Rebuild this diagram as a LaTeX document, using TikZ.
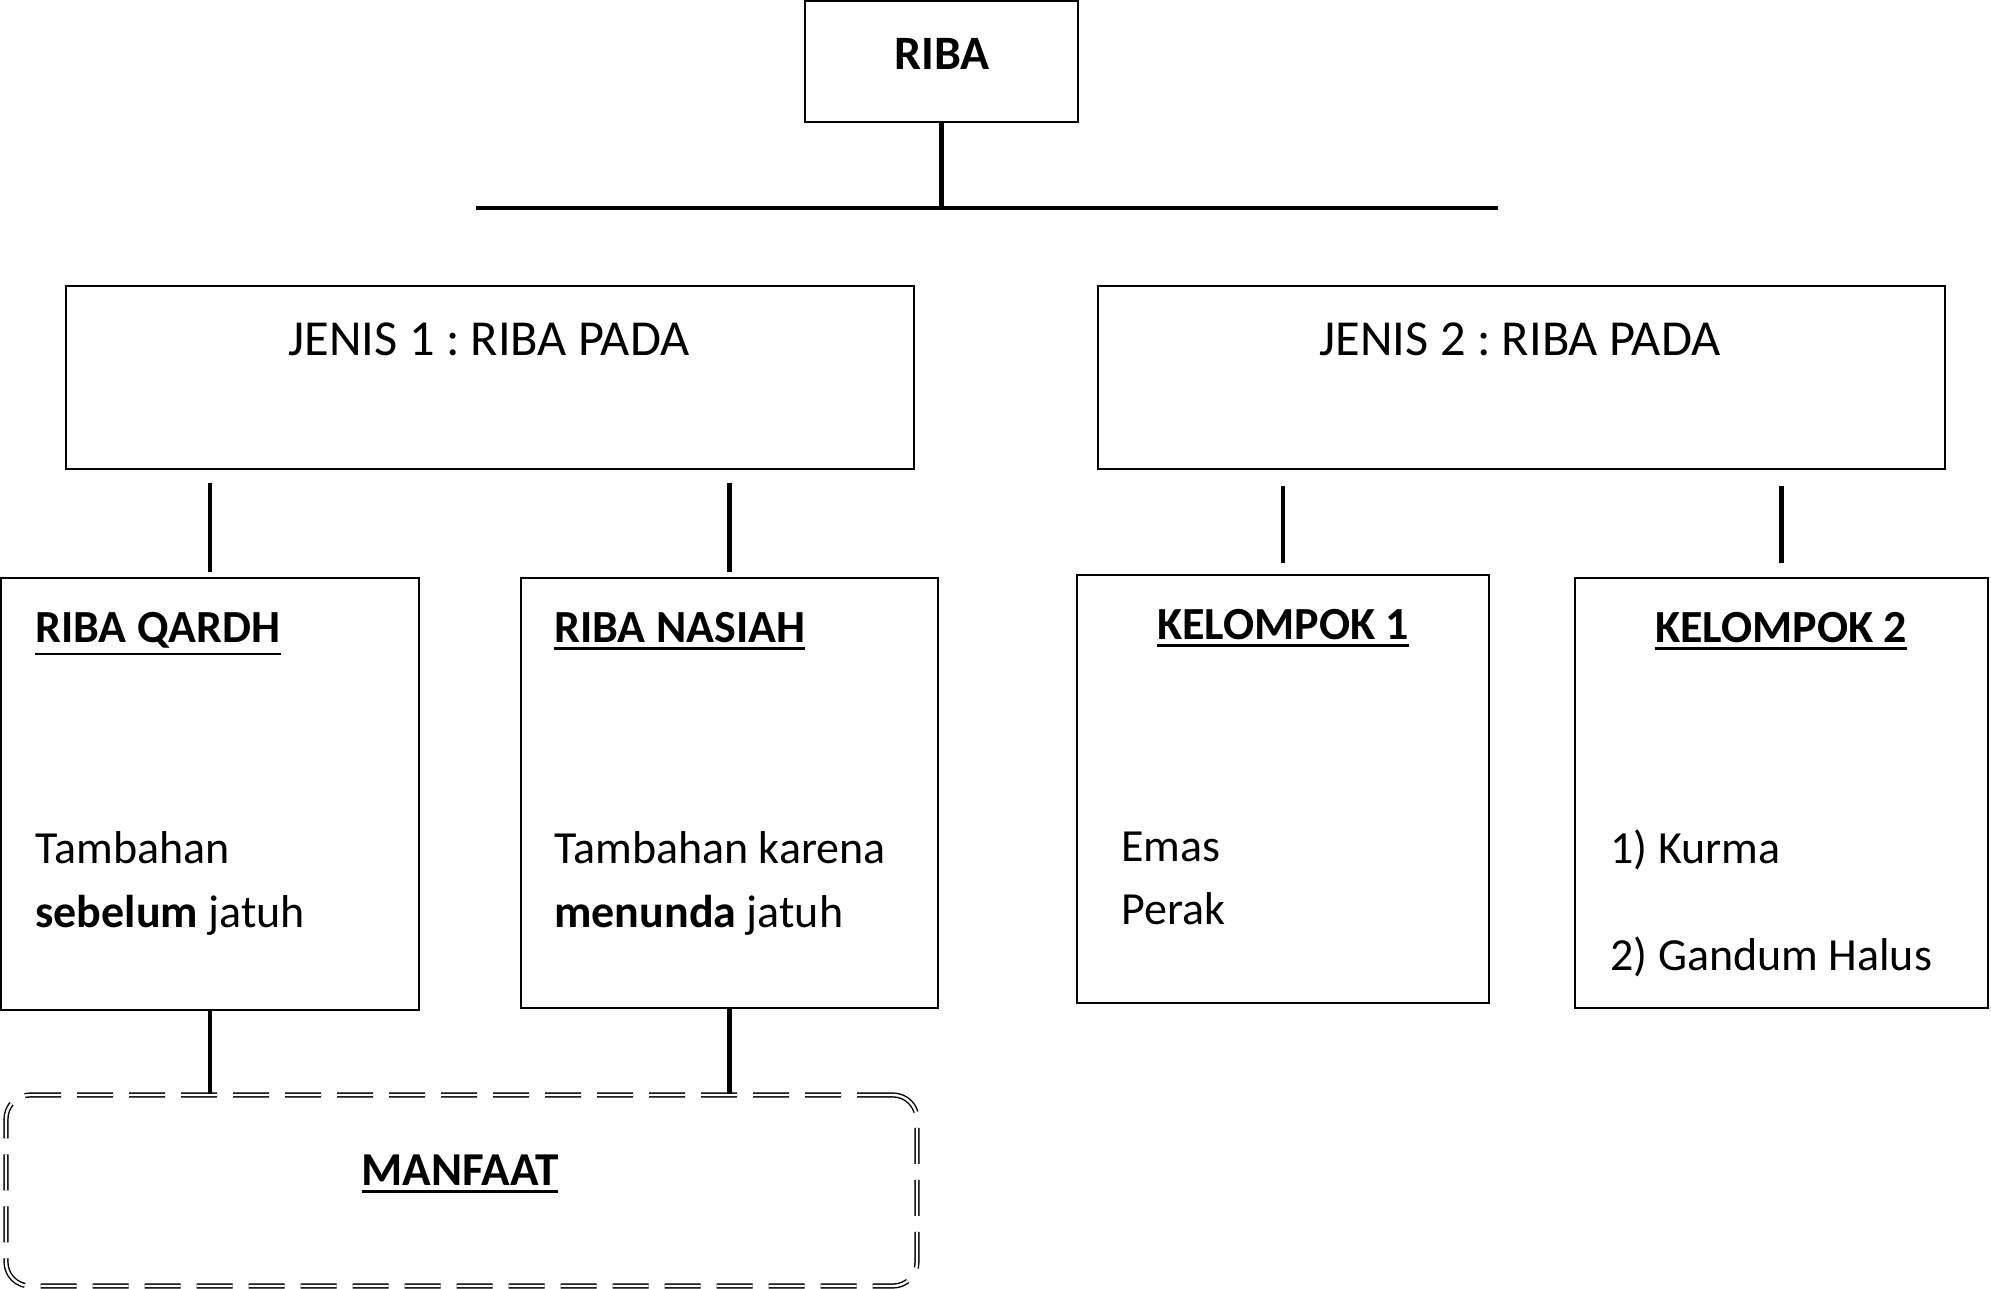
\documentclass[tikz,border=0pt]{standalone}
\usepackage{fontspec}
\setmainfont{Carlito}
\frenchspacing
\usetikzlibrary{positioning, calc}
\newcommand{\thickul}[1]{\vtop{\hbox{#1}\kern2.4pt\hrule height 1.35pt}}

\begin{document}
\begin{tikzpicture}[
    x=0.5pt, y=-0.5pt,
    font=\fontsize{23}{32}\selectfont,
    box/.style={rectangle, draw, line width=1.35pt, inner sep=0pt},
    dbox/.style={rectangle, draw, rounded corners=12pt, line width=0.7pt, double, double distance=1.2pt, dash pattern=on 18pt off 8pt, inner sep=0pt},
    txt/.style={anchor=base west, inner sep=0pt},
    head/.style={anchor=base, inner sep=0pt},
    big/.style={font=\fontsize{25.2}{32}\selectfont},
    conn/.style={line width=2.2pt},
    bar/.style={line width=2.2pt}
]
\useasboundingbox (0,0) rectangle (1991,1289);

% Top: RIBA and the bar below it
\node[box, minimum width=136.5pt, minimum height=60.5pt] (riba) at (941.5,61.5) {};
\node[head, font=\fontsize{24}{32}\selectfont] (ribaT) at (942,69.5) {\textbf{RIBA}};
\coordinate (barL) at (476,208);
\coordinate (barR) at (1498,208);
\draw[bar] (riba.south) -- (riba.south |- barL);
\draw[bar] (barL) -- (barR);

% Second row: the two kinds
\node[box, minimum width=424pt, minimum height=91.5pt] (jenis1) at (490,377.5) {};
\node[box, minimum width=423.5pt, minimum height=91.5pt] (jenis2) at (1521.5,377.5) {};
\node[head, big] (jenis1T) at (489,355) {JENIS 1 : RIBA PADA};
\node[head, big] (jenis2T) at (1520,355) {JENIS 2 : RIBA PADA};

% Third row: four boxes
\node[box, minimum width=209pt, minimum height=216pt] (qardh) at (210,794) {};
\node[box, minimum width=208.5pt, minimum height=215pt] (nasiah) at (729.5,793) {};
\node[box, minimum width=206pt, minimum height=214pt] (kel1) at (1283,789) {};
\node[box, minimum width=206.5pt, minimum height=215pt] (kel2) at (1781.5,793) {};

% texts in the boxes
\node[txt] (qardhT) at (35,642) {\thickul{\textbf{RIBA QARDH}}};
\node[txt] (qardh1) at (35,863) {Tambahan};
\node[txt, below=32pt of qardh1.base west, anchor=base west] (qardh2) {\textbf{sebelum} jatuh};

\node[txt] (nasiahT) at (554,642) {\thickul{\textbf{RIBA NASIAH}}};
\node[txt] (nasiah1) at (554,863) {Tambahan karena};
\node[txt, below=32pt of nasiah1.base west, anchor=base west] (nasiah2) {\textbf{menunda} jatuh};

\node[head] (kel1T) at (1283,639) {\thickul{\textbf{KELOMPOK 1}}};
\node[txt] (emas) at (1121,861) {Emas};
\node[txt, below=31.5pt of emas.base west, anchor=base west] (perak) {Perak};

\node[head] (kel2T) at (1781,642) {\thickul{\textbf{KELOMPOK 2}}};
\node[txt] (kurma) at (1610,863) {1) Kurma};
\node[txt, below=53.5pt of kurma.base west, anchor=base west] (gandum) {2) Gandum Halus};

% Bottom: MANFAAT
\node[dbox, minimum width=455.5pt, minimum height=95.5pt] (manfaat) at (461.5,1190.5) {};
\node[head, font=\fontsize{23.6}{32}\selectfont] (manfaatT) at (460,1185) {\thickul{\textbf{MANFAAT}}};

% connectors
\draw[conn] ([yshift=-6.5pt]jenis1.south -| qardh.north) -- ([yshift=2.5pt]qardh.north);
\draw[conn] ([yshift=-6.5pt]jenis1.south -| nasiah.north) -- ([yshift=2.5pt]nasiah.north);
\draw[conn] ([yshift=-8pt]jenis2.south -| kel1.north) -- ([yshift=5.5pt]kel1.north);
\draw[conn] ([yshift=-8pt]jenis2.south -| kel2.north) -- ([yshift=7pt]kel2.north);
\draw[conn] (qardh.south) -- (qardh.south |- manfaat.north);
\draw[conn] (nasiah.south) -- (nasiah.south |- manfaat.north);
\end{tikzpicture}
\end{document}
